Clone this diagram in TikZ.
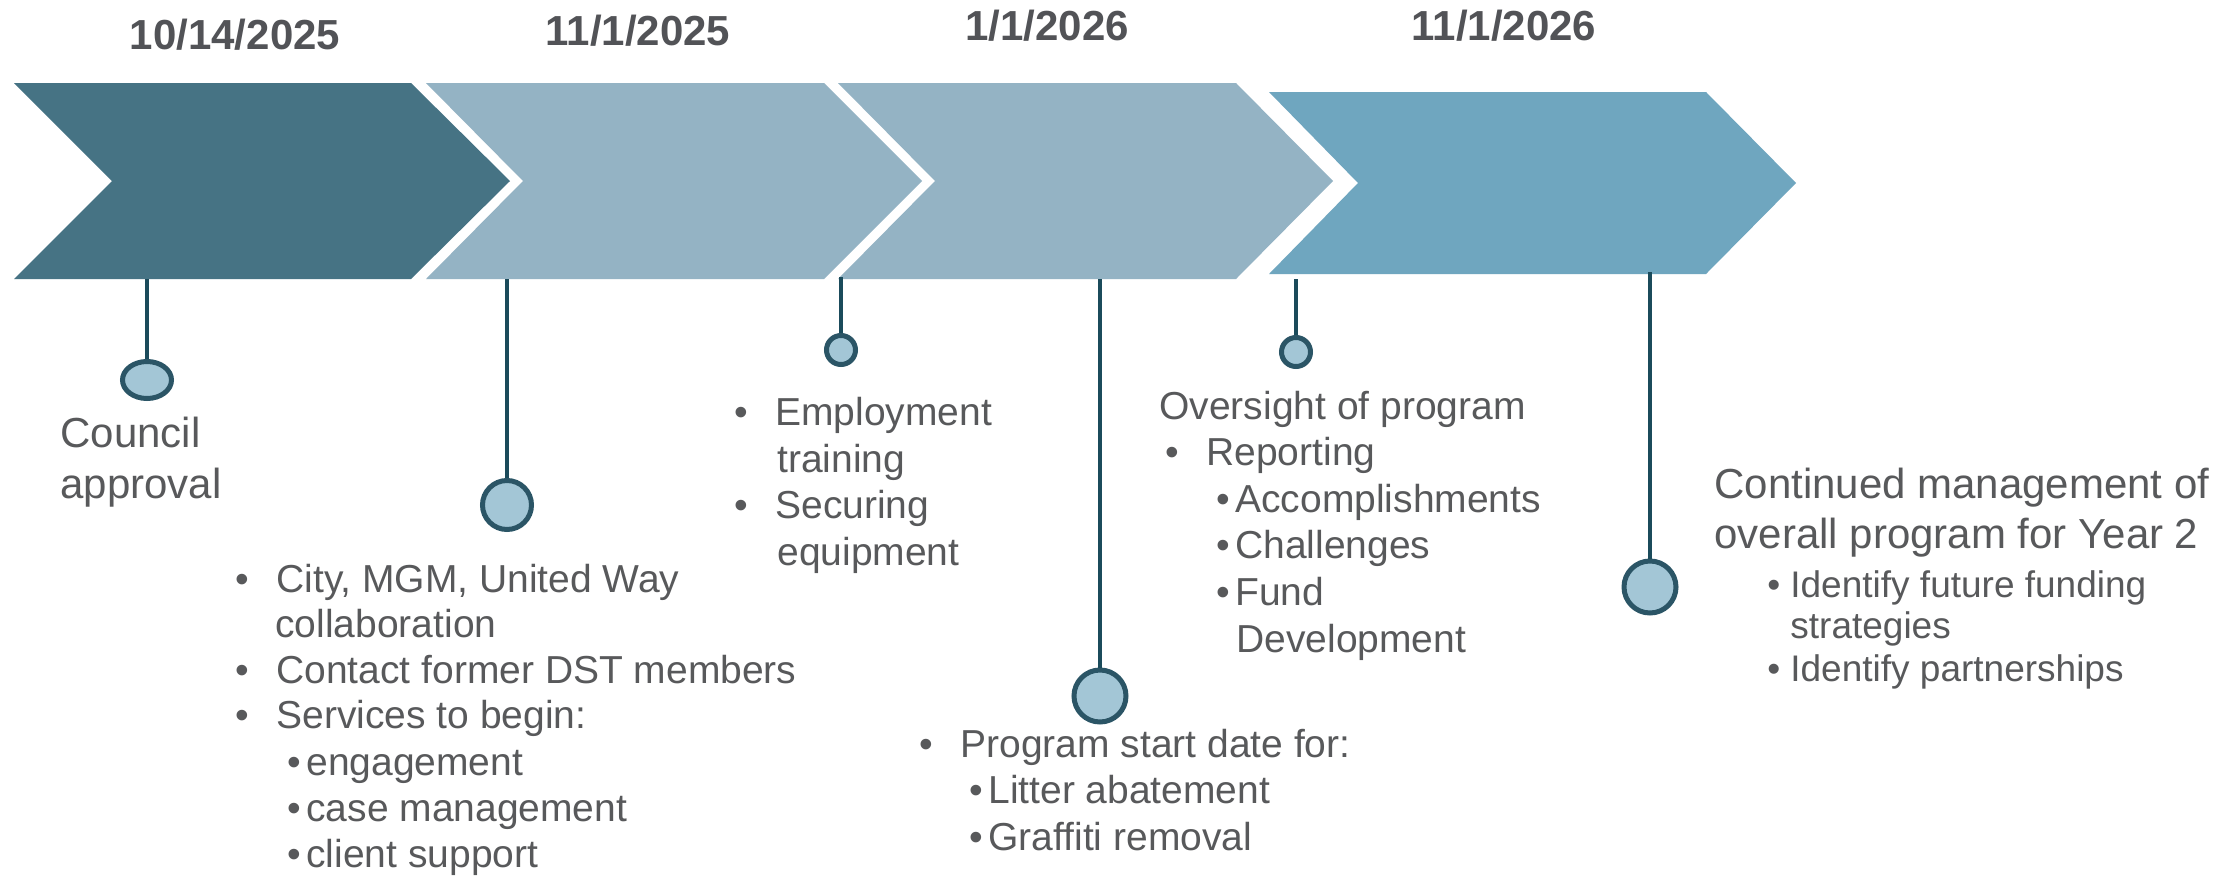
\documentclass[tikz,border=0pt]{standalone}
\usepackage{fontspec}
\setmainfont{Liberation Sans}
\usetikzlibrary{shapes.geometric}
\definecolor{chA}{HTML}{467384}
\definecolor{chB}{HTML}{94B3C4}
\definecolor{chC}{HTML}{6FA6BF}
\definecolor{circf}{HTML}{A3C6D6}
\definecolor{circb}{HTML}{2B5566}
\definecolor{stemc}{HTML}{1B4B5B}
\definecolor{txtc}{HTML}{58595B}
\definecolor{datec}{HTML}{525357}
\newcommand\blt{\makebox[20.5pt][l]{\textbullet}}
\newcommand\sblt{\makebox[9.5pt][l]{\textbullet}}
\newcommand\ssblt{\makebox[11.5pt][l]{\textbullet}}
\begin{document}
\begin{tikzpicture}[x=0.5pt,y=-0.5pt,
  dot/.style={circle, draw=circb, fill=circf, line width=2.5pt, inner sep=0pt},
  stem/.style={draw=stemc, line width=2pt},
  body/.style={anchor=base west, inner sep=0pt, text=txtc, font=\fontsize{19.5}{23}\selectfont},
  small/.style={anchor=base west, inner sep=0pt, text=txtc, font=\fontsize{18.5}{22}\selectfont},
  big/.style={anchor=base west, inner sep=0pt, text=txtc, font=\fontsize{21}{25}\selectfont},
  datelbl/.style={anchor=base, inner sep=0pt, text=datec, font=\bfseries\fontsize{21}{25}\selectfont}]
\useasboundingbox (0,0) rectangle (2235,879);
\fill[white] (0,0) rectangle (2235,879);

% chevrons
\fill[chA] (14,83) -- (411,83) -- (510,181) -- (411,279) -- (14,279) -- (112,181) -- cycle;
\fill[chB] (426,83) -- (824,83) -- (922,181) -- (824,279) -- (426,279) -- (523,181) -- cycle;
\fill[chB] (838,83) -- (1236,83) -- (1333,181) -- (1236,279) -- (838,279) -- (935,181) -- cycle;
\fill[chC] (1269,92) -- (1706,92) -- (1796,183) -- (1706,274) -- (1269,274) -- (1358,183) -- cycle;

% dates
\node[datelbl] (d1) at (235,49) {10/14/2025};
\node[datelbl] (d2) at (638,45) {11/1/2025};
\node[datelbl] (d3) at (1047,40) {1/1/2026};
\node[datelbl] (d4) at (1504,40) {11/1/2026};

% stems and dots
\coordinate (s1) at (147,279);
\coordinate (s2) at (507,279);
\coordinate (s3) at (841,277);
\coordinate (s4) at (1100,279);
\coordinate (s5) at (1296,279);
\coordinate (s6) at (1650,272);
\node[dot, ellipse, minimum width=24.5pt, minimum height=18.5pt] (c1) at (147,380) {};
\node[dot, minimum size=24.5pt] (c2) at (507,505) {};
\node[dot, minimum size=14.5pt] (c3) at (841,350) {};
\node[dot, minimum size=26pt] (c4) at (1100,696) {};
\node[dot, minimum size=14.5pt] (c5) at (1296,352) {};
\node[dot, minimum size=26pt] (c6) at (1650,587) {};
\draw[stem] (s1) -- (c1);
\draw[stem] (s2) -- (c2);
\draw[stem] (s3) -- (c3);
\draw[stem] (s4) -- (c4);
\draw[stem] (s5) -- (c5);
\draw[stem] (s6) -- (c6);

% block 1
\node[big] (t1a) at (60,447) {Council};
\node[big] (t1b) at (60,498) {approval};

% block 2
\node[body] (t2a) at (235,592) {\blt City, MGM, United Way};
\node[body] (t2b) at (275,637) {collaboration};
\node[body] (t2c) at (235,683) {\blt Contact former DST members};
\node[body] (t2d) at (235,728) {\blt Services to begin:};
\node[body] (t2e) at (287,775) {\sblt engagement};
\node[body] (t2f) at (287,821) {\sblt case management};
\node[body] (t2g) at (287,867) {\sblt client support};

% block 3
\node[body] (t3a) at (734,425) {\blt Employment};
\node[body] (t3b) at (777,472) {training};
\node[body] (t3c) at (734,518) {\blt Securing};
\node[body] (t3d) at (777,565) {equipment};

% block 4
\node[body] (t4a) at (919,757) {\blt Program start date for:};
\node[body] (t4b) at (969,803) {\sblt Litter abatement};
\node[body] (t4c) at (969,850) {\sblt Graffiti removal};

% block 5
\node[body] (t5a) at (1159,419) {Oversight of program};
\node[body] (t5b) at (1165,465) {\blt Reporting};
\node[body] (t5c) at (1216,512) {\sblt Accomplishments};
\node[body] (t5d) at (1216,558) {\sblt Challenges};
\node[body] (t5e) at (1216,605) {\sblt Fund};
\node[body] (t5f) at (1236,652) {Development};

% block 6
\node[big] (t6a) at (1714,498) {Continued management of};
\node[big] (t6b) at (1714,548) {overall program for Year 2};
\node[small] (t6c) at (1767,597) {\ssblt Identify future funding};
\node[small] (t6d) at (1790,638) {strategies};
\node[small] (t6e) at (1767,681) {\ssblt Identify partnerships};
\end{tikzpicture}
\end{document}
